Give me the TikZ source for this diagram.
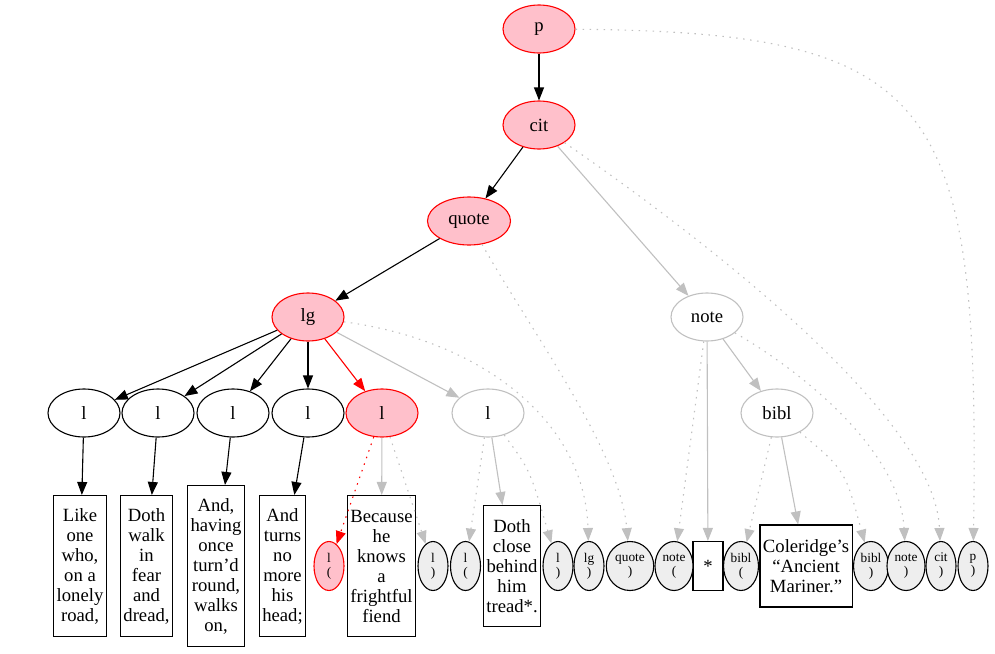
\documentclass[tikz,border=0pt]{standalone}
\usepackage{fontspec}
\setmainfont{Liberation Serif}
\usetikzlibrary{shapes.geometric,arrows.meta}
\definecolor{pinkfill}{HTML}{FFC0CB}
\definecolor{edgegray}{HTML}{C0C0C0}
\definecolor{tagfill}{HTML}{EEEEEE}

\begin{document}
\begin{tikzpicture}[x=1pt,y=-1pt,
        font=\fontsize{18.67}{20}\selectfont,
        >={Triangle[length=13pt,width=10pt]}, % Pfeilspitzen wie bei dot
        elem/.style={ellipse,draw,line width=1.1pt,minimum width=72pt,
            minimum height=48pt,inner sep=1pt},
        open/.style={elem,draw=red,fill=pinkfill},
        done/.style={elem,draw=black},
        todo/.style={elem,draw=edgegray},
        tagmark/.style={ellipse,draw,line width=1.1pt,fill=tagfill,
            minimum width=30pt,minimum height=49pt,inner xsep=2pt,inner ysep=1pt,
            align=center,font=\fontsize{13.3}{14}\selectfont},
        txt/.style={rectangle,draw,line width=1.1pt,align=center,
            inner xsep=3pt,inner ysep=0pt,minimum height=#1},
        kante/.style={->,line width=1.1pt},
        grau/.style={kante,draw=edgegray},
        punkt/.style={kante,draw=edgegray,dash pattern=on 1.5pt off 5.5pt}
        ]
            \useasboundingbox (0,0) rectangle (995,653);

            % Elemente
            \node[open] (p)     at (539,29)  {p};
            \node[open] (cit)   at (539,125) {cit};
            \node[open,minimum width=83pt] (quote) at (469,221) {quote};
            \node[open] (lg)    at (308,317) {lg};
            \node[todo] (note)  at (707,317) {note};
            \node[done] (l1)    at (84,413)  {l};
            \node[done] (l2)    at (158,413) {l};
            \node[done] (l3)    at (233,413) {l};
            \node[done] (l4)    at (308,413) {l};
            \node[open] (l5)    at (382,413) {l};
            \node[todo] (l6)    at (488,413) {l};
            \node[todo] (bibl)  at (777,413) {bibl};

            % Text
            \node[txt=141pt] (v1) at (80,566)    {Like\\one\\who,\\on a\\lonely\\road,};
            \node[txt=141pt] (v2) at (146.5,566) {Doth\\walk\\in\\fear\\and\\dread,};
            \node[txt=161pt] (v3) at (216,566)   {And,\\having\\once\\turn'd\\round,\\walks\\on,};
            \node[txt=141pt] (v4) at (282.5,566) {And\\turns\\no\\more\\his\\head;};
            \node[txt=141pt] (v5) at (381.5,566) {Because\\he\\knows\\a\\frightful\\fiend};
            \node[txt=121pt] (v6) at (512,566)   {Doth\\close\\behind\\him\\tread*.};
            \node[txt=49pt,minimum width=30pt] (star) at (708,566) {*};
            \node[txt=82pt] (coleridge) at (806,566) {Coleridge's\\``Ancient\\Mariner.''};

            % Marken
            \node[tagmark,draw=red,fill=pinkfill] (o5) at (329,566) {l\\(};
            \node[tagmark] (c5)     at (433,566) {l\\)};
            \node[tagmark] (o6)     at (465.5,566) {l\\(};
            \node[tagmark] (c6)     at (558,566) {l\\)};
            \node[tagmark] (clg)    at (589,566) {lg\\)};
            \node[tagmark] (cquote) at (630,566) {quote\\)};
            \node[tagmark] (onote)  at (674,566) {note\\(};
            \node[tagmark] (obibl)  at (741,566) {bibl\\(};
            \node[tagmark] (cbibl)  at (871,566) {bibl\\)};
            \node[tagmark] (cnote)  at (906,566) {note\\)};
            \node[tagmark] (ccit)   at (941,566) {cit\\)};
            \node[tagmark] (cp)     at (973,566) {p\\)};

            % Kanten
            \draw[kante] (p) -- (cit);
            \draw[kante] (cit) -- (quote);
            \draw[kante] (quote) -- (lg);
            \draw[grau]  (cit) -- (note);
            \foreach \i in {1,...,4} {
                \draw[kante] (lg) -- (l\i);
                \draw[kante] (l\i) -- (v\i);
            }
            \draw[kante,draw=red] (lg) -- (l5);
            \draw[grau] (lg) -- (l6);
            \draw[grau] (l5) -- (v5);
            \draw[grau] (l6) -- (v6);
            \draw[grau] (note) -- (star);
            \draw[grau] (note) -- (bibl);
            \draw[grau] (bibl) -- (coleridge);

            % Marken-Kanten
            \draw[punkt,draw=red] (l5) -- (o5);
            \draw[punkt] (l5) -- (c5);
            \draw[punkt] (l6) -- (o6);
            \draw[punkt] (l6) .. controls (530,470) .. (c6);
            \draw[punkt] (lg) .. controls (480,340) and (585,420) .. (clg);
            \draw[punkt] (quote) .. controls (530,330) and (620,450) .. (cquote);
            \draw[punkt] (note) -- (onote);
            \draw[punkt] (bibl) -- (obibl);
            \draw[punkt] (bibl) .. controls (845,470) .. (cbibl);
            \draw[punkt] (note) .. controls (800,370) and (900,450) .. (cnote);
            \draw[punkt] (cit) .. controls (720,250) and (935,420) .. (ccit);
            \draw[punkt] (p) .. controls (940,32) and (980,100) .. (cp);

        \end{tikzpicture}
\end{document}
